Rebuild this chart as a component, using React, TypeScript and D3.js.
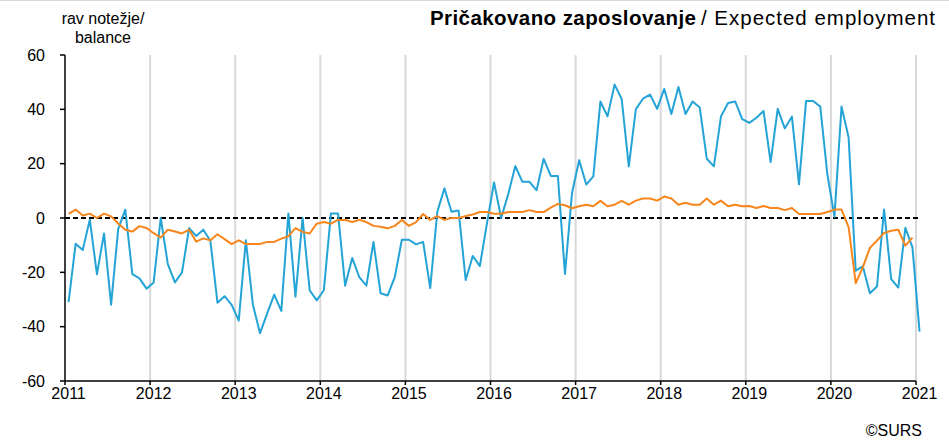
import { useMemo } from "react";
import * as d3 from "d3";

// mesečni podatki jan 2011 – jan 2021
const yearLabels = ["2011", "2012", "2013", "2014", "2015", "2016", "2017", "2018", "2019", "2020", "2021"];
const yTicks = [-60, -40, -20, 0, 20, 40, 60];

// ravnotežje (modra)
const balance = [
  -31, -9.5, -11.8, -0.6, -20.7, -5.7, -31.9, -4.1, 3.1, -20.7, -22.2, -26,
  -23.7, 0, -17, -23.7, -20, -3.7, -6.6, -4.3, -8.4, -31.2, -28.8, -32,
  -37.8, -8.2, -32, -42.4, -35.2, -28.2, -34.2, 1.7, -29, 0, -26.6, -30.3,
  -26.6, 1.7, 1.7, -24.9, -14.7, -21.8, -24.9, -8.8, -27.7, -28.5, -21.8, -8,
  -8, -9.7, -8.8, -25.8, 2.3, 10.9, 2.3, 2.8, -22.8, -14, -17.7, -2,
  13.1, 0, 8.8, 19.1, 13.3, 13.3, 10.2, 21.8, 15.5, 15.5, -20.6, 9.3,
  21.3, 12.3, 15.3, 42.9, 37.4, 49.1, 43.8, 19, 40.1, 43.9, 45.4, 40.2,
  47.5, 38.3, 48.2, 38.3, 42.9, 40.7, 21.8, 19, 37.4, 42.3, 42.9, 36.4,
  35, 36.9, 39.4, 20.6, 40.2, 33, 37.3, 12.4, 43.1, 43.1, 41, 16.1,
  0.5, 41, 29.6, -19.4, -17.8, -27.7, -25.2, 3.1, -22.5, -25.6, -3.6, -10.8,
  -41.8,
];

// desezonirano / trend (oranžna)
const trend = [
  1.5, 3.1, 0.9, 1.6, 0, 1.6, 0.6, -2, -4.3, -5, -3, -3.7,
  -5.6, -7.2, -4.3, -5, -5.7, -4.3, -8.7, -7.5, -8.2, -6, -7.8, -9.6,
  -8.2, -9.6, -9.6, -9.6, -8.8, -8.8, -7.6, -6.7, -3.7, -5.1, -5.7, -2.1,
  -1.5, -2.1, -0.7, -0.7, -1.5, -0.7, -1.5, -2.9, -3.2, -3.8, -2.9, -0.7,
  -2.9, -1.5, 1.5, -0.7, 0.7, -0.7, 0, 0, 0.7, 1.3, 2.2, 2.2,
  1.6, 1.6, 2.2, 2.2, 2.2, 2.9, 2.2, 2.2, 3.8, 5.2, 4.7, 3.6,
  4.3, 4.9, 4.3, 6.3, 4.3, 4.9, 6.3, 4.9, 6.4, 7.2, 7.2, 6.4,
  7.9, 7.2, 4.9, 5.6, 4.9, 4.9, 7.2, 4.9, 6.4, 4.3, 4.9, 4.3,
  4.4, 3.7, 4.4, 3.7, 3.7, 2.9, 3.7, 1.5, 1.5, 1.5, 1.5, 2.2,
  3.1, 3.1, -3.4, -24, -18.2, -11, -8.3, -5.5, -4.7, -4.3, -10.2, -7.2,
];

const W = 949;
const H = 441;
const FONT = "'Liberation Sans', Arial, sans-serif";

export default function App() {
  const x = useMemo(() => d3.scaleLinear().domain([0, 120]).range([65, 916]), []);
  const y = useMemo(() => d3.scaleLinear().domain([-60, 60]).range([381, 55]), []);

  const line = d3
    .line<number>()
    .x((_d, i) => x(i + 0.5))
    .y((d) => y(d));

  const monthStep = x(1) - x(0);

  return (
    <svg
      width={W}
      height={H}
      viewBox={`0 0 ${W} ${H}`}
      style={{ position: "absolute", left: 0, top: 0, background: "#fff", fontFamily: FONT }}
    >
      <line x1={0} x2={W} y1={0.5} y2={0.5} stroke="#d9d9d9" strokeWidth={1} />

      {/* mreža po letih */}
      {yearLabels.map((lab, i) =>
        i === 0 ? null : (
          <line key={"g" + lab} x1={x(i * 12)} x2={x(i * 12)} y1={y(60)} y2={y(-60)} stroke="#d9d9d9" strokeWidth={2} />
        )
      )}

      {/* ničelna črta */}
      <line x1={x(0)} x2={x(120) + 4} y1={y(0)} y2={y(0)} stroke="#000" strokeWidth={2} strokeDasharray="5,3" />

      <path d={line(balance) ?? ""} fill="none" stroke="#24a3d6" strokeWidth={2} strokeLinejoin="round" />
      <path d={line(trend) ?? ""} fill="none" stroke="#f7861c" strokeWidth={2} strokeLinejoin="round" />

      {/* osi */}
      <line x1={x(0)} x2={x(0)} y1={y(60)} y2={y(-60)} stroke="#000" strokeWidth={1.5} />
      <line x1={x(0)} x2={x(120)} y1={y(-60)} y2={y(-60)} stroke="#000" strokeWidth={1.5} />

      {yTicks.map((t) => (
        <g key={"y" + t}>
          <line x1={x(0) - 5} x2={x(0)} y1={y(t)} y2={y(t)} stroke="#000" strokeWidth={1.5} />
          <text x={45} y={y(t)} dy="0.35em" textAnchor="end" fontSize={16} fill="#000">
            {t}
          </text>
        </g>
      ))}

      {yearLabels.map((lab, i) => (
        <g key={"x" + lab}>
          <line x1={x(i * 12)} x2={x(i * 12)} y1={y(-60)} y2={y(-60) + 4} stroke="#000" strokeWidth={1.5} />
          <text x={x(i * 12) + monthStep / 2} y={399} textAnchor="middle" fontSize={16} fill="#000">
            {lab}
          </text>
        </g>
      ))}

      <text x={103} y={24} textAnchor="middle" fontSize={16} fill="#000">
        rav notežje/
      </text>
      <text x={103} y={43} textAnchor="middle" fontSize={16} fill="#000">
        balance
      </text>

      <text x={430} y={25} fontSize={20.5} fontWeight="bold" fill="#000" textLength={266} lengthAdjust="spacing">
        Pričakovano zaposlovanje
      </text>
      <text x={701} y={25} fontSize={20.5} fill="#000" textLength={234} lengthAdjust="spacing">
        / Expected employment
      </text>

      <text x={922} y={436} textAnchor="end" fontSize={16} fill="#000">
        ©SURS
      </text>
    </svg>
  );
}
